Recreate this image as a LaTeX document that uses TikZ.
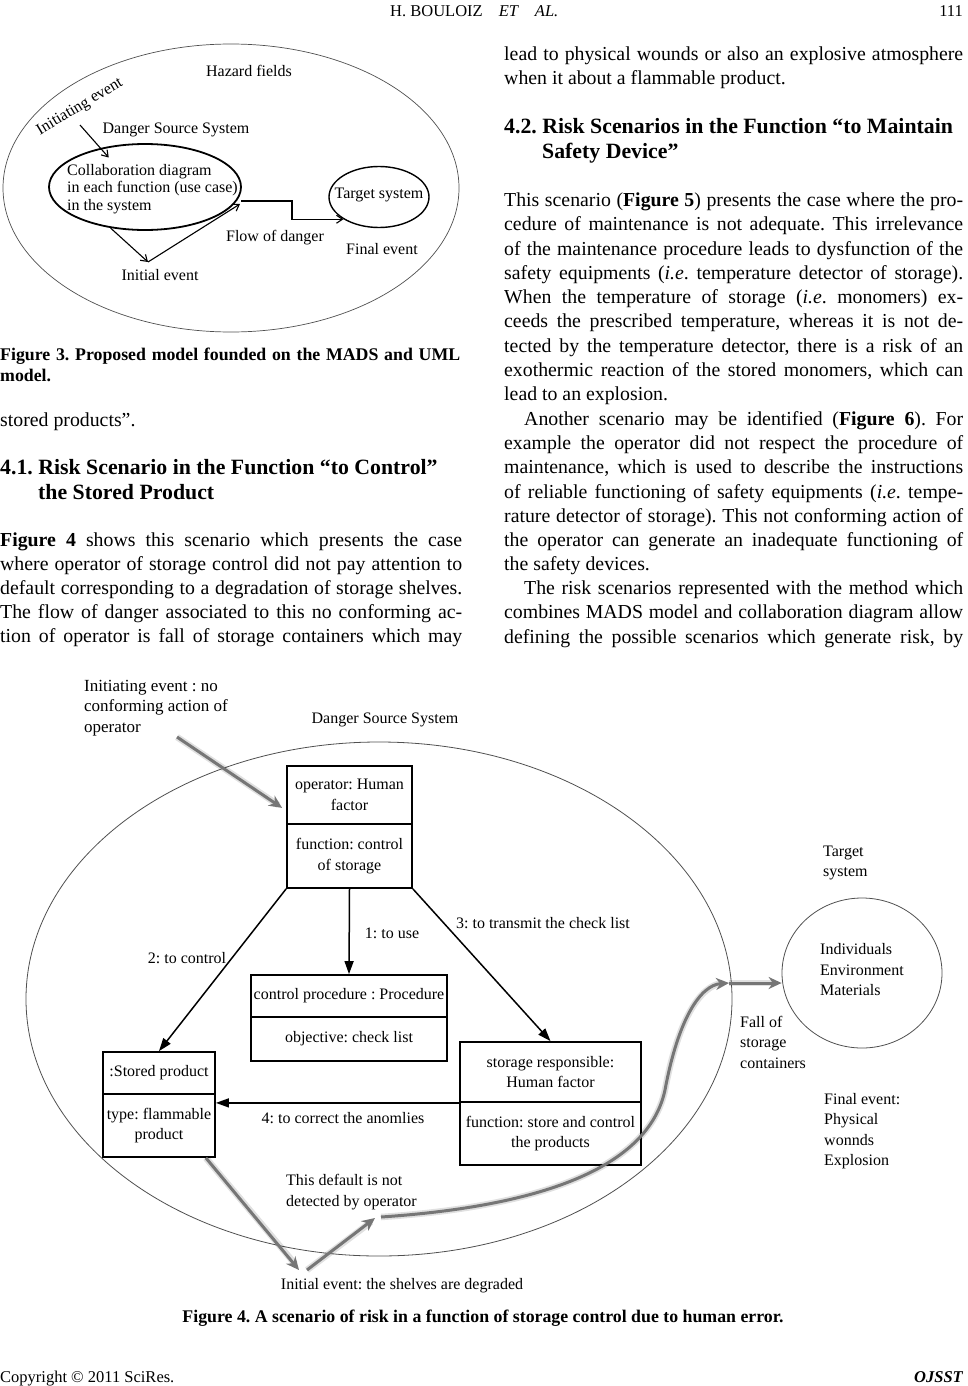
\documentclass[tikz,border=0pt]{standalone}
\usepackage{fontspec}
\setmainfont{Liberation Serif}
\usetikzlibrary{arrows.meta,shapes.geometric,calc}
\definecolor{arrgray}{RGB}{118,118,118}
\definecolor{ellgray}{RGB}{80,80,80}
\frenchspacing
\begin{document}
\begin{tikzpicture}[x=1pt,y=-1pt,
 body/.style={anchor=base west,inner sep=0,font=\fontsize{19.8}{24}\selectfont},
 head/.style={anchor=base west,inner sep=0,font=\fontsize{21.8}{26}\selectfont\bfseries},
 capt/.style={anchor=base west,inner sep=0,font=\fontsize{17.8}{20}\selectfont\bfseries},
 fthree/.style={inner sep=0,font=\fontsize{16}{17.5}\selectfont},
 ffour/.style={inner sep=0,font=\fontsize{16}{20.5}\selectfont},
 boxpart/.style={draw,line width=1.8pt,rectangle,inner sep=0,align=center,font=\fontsize{16}{20.5}\selectfont},
 blk/.style={line width=1.5pt,-{Triangle[length=13pt,width=9pt]}},
 gryarr/.style={draw=arrgray,line width=3pt,-{Stealth[length=13pt,width=12pt]}},
 gryglow/.style={draw=black,line width=6.5pt,opacity=0.12},
 thinarr/.style={line width=1.1pt,-{Straight Barb[length=6pt,width=8pt]}},
]
\fill[white] (0,0) rectangle (967,1386);
\useasboundingbox (0,0) rectangle (967,1386);

% ---------- header / footer ----------
\node[anchor=base west,inner sep=0,font=\fontsize{16.5}{18}\selectfont] (hdr) at (390,17) {H. BOULOIZ\hspace{16pt}\textit{ET}\hspace{16pt}\textit{AL.}};
\node[anchor=base east,inner sep=0,font=\fontsize{16.5}{18}\selectfont] (pg) at (963,17) {111};
\node[anchor=base west,inner sep=0,font=\fontsize{16.5}{18}\selectfont] (copy) at (0,1382) {Copyright © 2011 SciRes.};
\node[anchor=base east,inner sep=0,font=\fontsize{16.5}{18}\selectfont\bfseries\itshape] (jr) at (963,1382) {OJSST};

% ---------- Figure 3 ----------
\node[ellipse,draw=ellgray,line width=0.7pt,minimum width=456pt,minimum height=288pt,inner sep=0] (hz) at (231,188) {};
\node[fthree] (hzt) at (249,71) {Hazard fields};
\node[fthree,rotate=31] (ini3) at (80,107) {Initiating event};
\node[fthree] (dss3) at (176,130) {Danger Source System};
\node[ellipse,draw,line width=1.8pt,minimum width=192pt,minimum height=86pt,inner sep=0] (coll) at (145,187) {};
\node[fthree,anchor=west,align=left] (collt) at (67,189) {Collaboration diagram\\in each function (use case)\\in the system};
\node[ellipse,draw,line width=1.4pt,minimum width=100pt,minimum height=61pt,inner sep=0] (tgt3) at (379,197) {};
\node[fthree] (tgt3t) at (379,195) {Target system};
\node[fthree] (ie3t) at (160,275) {Initial event};
\node[fthree] (fl3t) at (275,238) {Flow of danger};
\node[fthree] (fe3t) at (382,249) {Final event};
\coordinate (ia3) at (80,125);
\coordinate (ie3) at (148,262);
\coordinate (fl3) at (241,201);
\draw[thinarr] (ia3) -- ($(coll.north west)!0.5!(coll.north)+(-2,8)$);
\draw[thinarr] (coll.230) -- (ie3);
\draw[thinarr] (ie3) -- (240,204);
\draw[thinarr] (fl3) -- ++(51,0) |- (tgt3.212);

\node[capt] (c3a) at (0,360) {\makebox[460pt][s]{Figure 3. Proposed model founded on the MADS and UML}};
\node[capt] (c3b) at (0,381) {model.};

% ---------- left column text ----------
\node[body] (sp) at (0,426) {stored products”.};
\node[head] (h41a) at (0,474) {4.1. Risk Scenario in the Function “to Control”};
\node[head] (h41b) at (38,499) {the Stored Product};
\node[body] (l1) at (0,546) {\makebox[462pt][s]{\textbf{Figure 4} shows this scenario which presents the case}};
\node[body] (l2) at (0,570) {\makebox[462pt][s]{where operator of storage control did not pay attention to}};
\node[body] (l3) at (0,594) {\makebox[462pt][s]{default corresponding to a degradation of storage shelves.}};
\node[body] (l4) at (0,618) {\makebox[462pt][s]{The flow of danger associated to this no conforming ac-}};
\node[body] (l5) at (0,642) {\makebox[462pt][s]{tion of operator is fall of storage containers which may}};

% ---------- right column text ----------
\node[body] (r1) at (504,61) {\makebox[459pt][s]{lead to physical wounds or also an explosive atmosphere}};
\node[body] (r2) at (504,85) {when it about a flammable product.};
\node[head] (h42a) at (504,134) {4.2. Risk Scenarios in the Function “to Maintain};
\node[head] (h42b) at (542,158) {Safety Device”};
\node[body] (r3) at (504,206) {\makebox[459pt][s]{This scenario (\textbf{Figure 5}) presents the case where the pro-}};
\node[body] (r4) at (504,230) {\makebox[459pt][s]{cedure of maintenance is not adequate. This irrelevance}};
\node[body] (r5) at (504,255) {\makebox[459pt][s]{of the maintenance procedure leads to dysfunction of the}};
\node[body] (r6) at (504,279) {\makebox[459pt][s]{safety equipments (\textit{i.e}. temperature detector of storage).}};
\node[body] (r7) at (504,303) {\makebox[459pt][s]{When the temperature of storage (\textit{i.e}. monomers) ex-}};
\node[body] (r8) at (504,327) {\makebox[459pt][s]{ceeds the prescribed temperature, whereas it is not de-}};
\node[body] (r9) at (504,352) {\makebox[459pt][s]{tected by the temperature detector, there is a risk of an}};
\node[body] (r10) at (504,376) {\makebox[459pt][s]{exothermic reaction of the stored monomers, which can}};
\node[body] (r11) at (504,400) {lead to an explosion.};
\node[body] (r12) at (524,425) {\makebox[439pt][s]{Another scenario may be identified (\textbf{Figure 6}). For}};
\node[body] (r13) at (504,449) {\makebox[459pt][s]{example the operator did not respect the procedure of}};
\node[body] (r14) at (504,473) {\makebox[459pt][s]{maintenance, which is used to describe the instructions}};
\node[body] (r15) at (504,498) {\makebox[459pt][s]{of reliable functioning of safety equipments (\textit{i.e}. tempe-}};
\node[body] (r16) at (504,522) {\makebox[459pt][s]{rature detector of storage). This not conforming action of}};
\node[body] (r17) at (504,546) {\makebox[459pt][s]{the operator can generate an inadequate functioning of}};
\node[body] (r18) at (504,570) {the safety devices.};
\node[body] (r19) at (524,594) {\makebox[439pt][s]{The risk scenarios represented with the method which}};
\node[body] (r20) at (504,618) {\makebox[459pt][s]{combines MADS model and collaboration diagram allow}};
\node[body] (r21) at (504,643) {\makebox[459pt][s]{defining the possible scenarios which generate risk, by}};

% ---------- Figure 4 ----------
\node[ellipse,draw=ellgray,line width=0.8pt,minimum width=706pt,minimum height=514pt,inner sep=0] (dss) at (379,999) {};
\node[ellipse,draw=ellgray,line width=0.8pt,minimum width=160pt,minimum height=150pt,inner sep=0] (tgt) at (862,973) {};

\node[inner sep=0,font=\fontsize{17}{20.5}\selectfont,anchor=west,align=left] (ini4) at (84,708) {Initiating event : no\\conforming action of\\operator};
\node[ffour] (dss4) at (385,720) {Danger Source System};
\node[ffour,anchor=west,align=left] (tgt4) at (823,863) {Target\\system};
\node[ffour,anchor=west,align=left] (ind) at (820,970) {Individuals\\Environment\\Materials};
\node[ffour,anchor=west,align=left] (fall) at (740,1042) {Fall of\\storage\\containers};
\node[ffour,anchor=west,align=left] (fe4) at (824,1131) {Final event:\\Physical\\wonnds\\Explosion};

\node[boxpart,minimum width=125pt,minimum height=58pt] (b1t) at (349.5,795) {operator: Human\\factor};
\node[boxpart,minimum width=125pt,minimum height=64pt] (b1b) at (349.5,856) {function: control\\of storage};
\node[boxpart,minimum width=196pt,minimum height=42pt] (b2t) at (349,996) {control procedure : Procedure};
\node[boxpart,minimum width=196pt,minimum height=44pt] (b2b) at (349,1039) {objective: check list};
\node[boxpart,minimum width=112pt,minimum height=42pt] (b3t) at (159,1073) {:Stored product};
\node[boxpart,minimum width=112pt,minimum height=63pt] (b3b) at (159,1125.5) {type: flammable\\product};
\node[boxpart,minimum width=181pt,minimum height=60pt] (b4t) at (550.5,1072) {storage responsible:\\Human factor};
\node[boxpart,minimum width=181pt,minimum height=63pt] (b4b) at (550.5,1133.5) {function: store and control\\the products};

\draw[blk] (b1b.south west) -- (b3t.north);
\draw[blk] (b1b.south) -- (b2t.north);
\draw[blk] (b1b.south east) -- (b4t.north);
\draw[blk] (b4t.south west) -- (b4t.south west -| b3b.east);

\node[ffour] (m2) at (187,958) {2: to control};
\node[ffour] (m1) at (392,933) {1: to use};
\node[ffour] (m3) at (543,923) {3: to transmit the check list};
\node[ffour] (m4) at (343,1118) {4: to correct the anomlies};

\node[ffour,anchor=west,align=left] (nd) at (286,1192) {This default is not\\detected by operator};
\node[ffour] (ie4) at (402,1286) {Initial event: the shelves are degraded};

\coordinate (ia4) at (177,737);
\coordinate (iep) at (299,1270);
\coordinate (ndp) at (375,1218);
\coordinate (fc) at (729,983);

% soft glow under gray arrows
\draw[gryglow] (ia4) -- ($(b1t.south west)+(-8,-20)$);
\draw[gryglow] ($(b3b.south east)+(-10,0)$) -- ($(iep)+(-4,-6)$);
\draw[gryglow] ($(iep)+(8,0)$) -- ($(ndp)+(-4,4)$);
\draw[gryglow] ($(ndp)+(6,-1)$) .. controls (560,1205) and (650,1160) .. (665,1090) .. controls (678,1020) and (700,985) .. ($(fc)+(-6,0)$);
\draw[gryglow] (fc) -- ($(fc -| tgt.west)+(-8,0)$);
% gray arrows
\draw[gryarr] (ia4) -- ($(b1t.south west)+(-4,-17)$);
\draw[gryarr] ($(b3b.south east)+(-10,0)$) -- (iep);
\draw[gryarr] ($(iep)+(8,0)$) -- (ndp);
\draw[gryarr] ($(ndp)+(6,-1)$) .. controls (560,1205) and (650,1160) .. (665,1090) .. controls (678,1020) and (700,985) .. (fc);
\draw[gryarr] (fc) -- (fc -| tgt.west);

\node[anchor=base,inner sep=0,font=\fontsize{17.8}{20}\selectfont\bfseries] (c4) at (483,1322) {Figure 4. A scenario of risk in a function of storage control due to human error.};
\end{tikzpicture}
\end{document}
